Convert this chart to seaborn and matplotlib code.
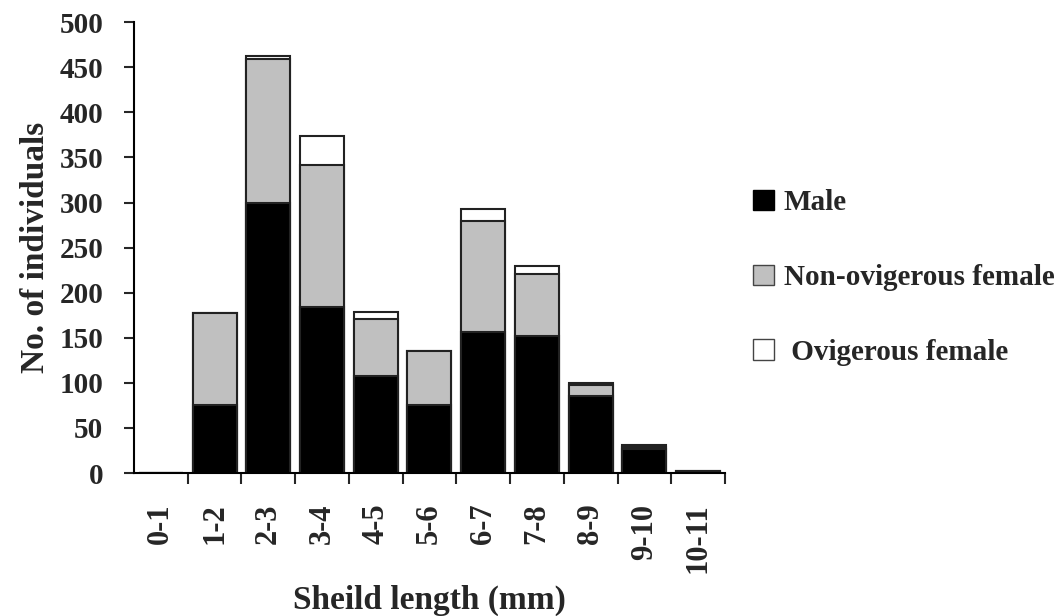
import numpy as np
import pandas as pd
import seaborn as sns
import matplotlib.pyplot as plt
from matplotlib.patches import Patch

# --- DATA ---
size_classes = ["0-1", "1-2", "2-3", "3-4", "4-5", "5-6", "6-7", "7-8", "8-9", "9-10", "10-11"]
male = [0, 75, 300, 184, 108, 75, 157, 152, 85, 27, 1]
non_ovigerous = [0, 102, 159, 158, 63, 60, 122, 69, 13, 2, 1]
ovigerous = [0, 0, 3, 32, 8, 0, 14, 9, 2, 2, 0]

df = pd.DataFrame({"size": size_classes, "Male": male,
                   "Non": non_ovigerous, "Ovi": ovigerous})
df["male_top"] = df["Male"]
df["non_top"] = df["Male"] + df["Non"]
df["total"] = df["non_top"] + df["Ovi"]

sns.set_style("white")
plt.rcParams["font.family"] = ["Liberation Serif", "DejaVu Serif"]
plt.rcParams["font.weight"] = "bold"

fig = plt.figure(figsize=(10.63, 6.16), dpi=100)
ax = fig.add_axes([0.126, 0.232, 0.556, 0.732])

# stacked bars drawn back to front
bar_kw = dict(edgecolor="#222222", linewidth=1.5, width=0.82, saturation=1, ax=ax)
sns.barplot(data=df, x="size", y="total", color="white", **bar_kw)
sns.barplot(data=df, x="size", y="non_top", color="#c0c0c0", **bar_kw)
sns.barplot(data=df, x="size", y="male_top", color="black", **bar_kw)

ax.set_ylim(0, 500)
ax.set_xlim(-0.5, len(size_classes) - 0.5)
ax.set_yticks(range(0, 501, 50))
ax.tick_params(axis="y", which="major", direction="out", length=7, width=1.5,
               left=True, labelsize=21, pad=15)

# ticks at class boundaries, labels at class centres
ax.set_xticks(np.arange(0.5, len(size_classes) - 0.5 + 0.01, 1.0))
ax.set_xticklabels([])
ax.tick_params(axis="x", which="major", direction="out", length=8, width=1.5, bottom=True)
ax.set_xticks(np.arange(len(size_classes)), minor=True)
ax.set_xticklabels(size_classes, minor=True, rotation=90, fontsize=22, fontweight="bold")
ax.tick_params(axis="x", which="minor", length=0, pad=22)

for lab in ax.get_yticklabels():
    lab.set_fontweight("bold")

sns.despine(ax=ax, top=True, right=True)
for s in ["left", "bottom"]:
    ax.spines[s].set_linewidth(1.5)
    ax.spines[s].set_color("black")

ax.set_xlabel("Sheild length (mm)", fontsize=24, fontweight="bold", labelpad=8)
ax.set_ylabel("No. of individuals", fontsize=24, fontweight="bold", labelpad=6)

handles = [Patch(facecolor="black", edgecolor="black", label="Male"),
           Patch(facecolor="#c0c0c0", edgecolor="#444444", label="Non-ovigerous female"),
           Patch(facecolor="white", edgecolor="#444444", label=" Ovigerous female")]
fig.legend(handles=handles, loc="upper left", bbox_to_anchor=(0.684, 0.735),
           frameon=False, handlelength=0.7, handleheight=0.7, handletextpad=0.35,
           labelspacing=1.63, prop={"family": "Liberation Serif", "weight": "bold", "size": 21})

fig.savefig("out.png", dpi=100)
